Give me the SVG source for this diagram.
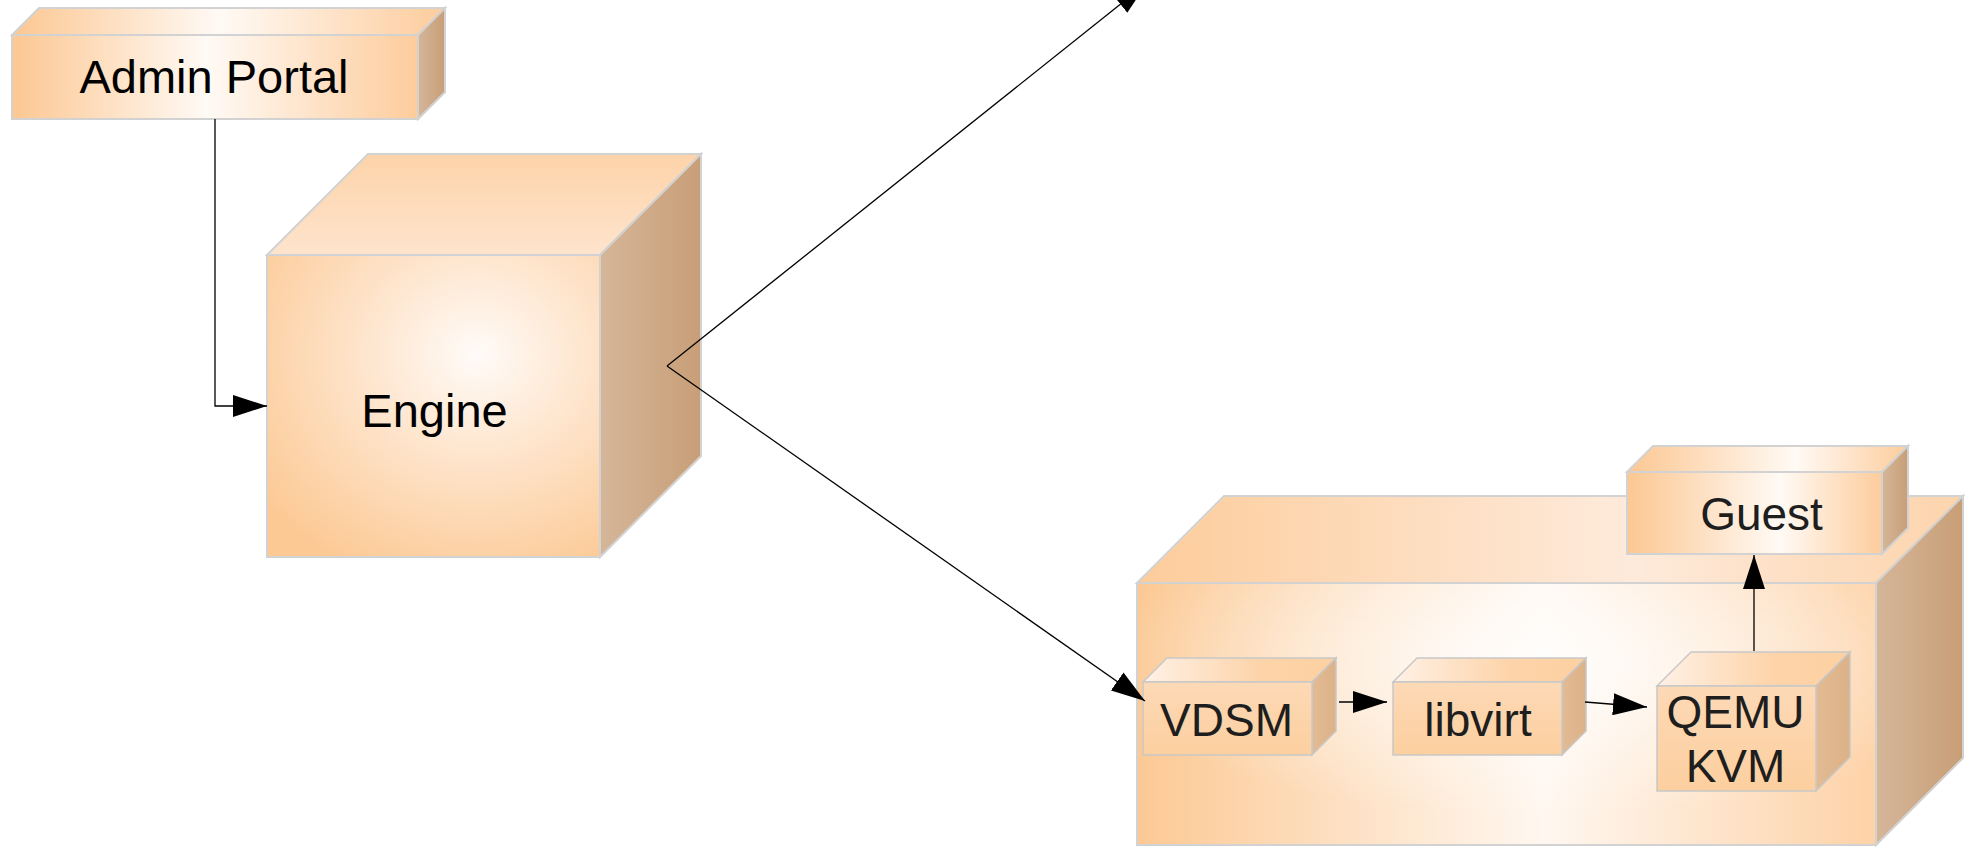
<svg xmlns="http://www.w3.org/2000/svg" width="1971" height="848" viewBox="0 0 1971 848">
<defs>
<style>
.edge{stroke:#d2d2d2;stroke-width:2;stroke-linejoin:miter}
.edge1{stroke:#c8c8c8;stroke-width:1.5}
.lbl{font-family:"Liberation Sans",Arial,sans-serif;font-size:47px;text-anchor:middle;fill:#000}
.lbl2{font-family:"Liberation Sans",Arial,sans-serif;font-size:46px;text-anchor:middle;fill:#1e1e1e}
.conn{fill:none;stroke:#000;stroke-width:1.3}
</style>
<linearGradient id="gAxialA" x1="0" y1="0" x2="1" y2="0">
<stop offset="0" stop-color="#fcc792"/><stop offset="0.48" stop-color="#fffaf5"/><stop offset="1" stop-color="#fdcc9c"/>
</linearGradient>
<linearGradient id="gAxialG" x1="0" y1="0" x2="1" y2="0">
<stop offset="0" stop-color="#fcc792"/><stop offset="0.6" stop-color="#fffaf5"/><stop offset="1" stop-color="#fdcc9c"/>
</linearGradient>
<linearGradient id="gSide" x1="0" y1="0" x2="1" y2="0">
<stop offset="0" stop-color="#d5b699"/><stop offset="1" stop-color="#c89e77"/>
</linearGradient>
<radialGradient id="gEngineFront" cx="0.63" cy="0.33" r="0.8" fx="0.63" fy="0.33">
<stop offset="0" stop-color="#fffbf8"/><stop offset="0.4" stop-color="#fee6cf"/><stop offset="1" stop-color="#fcc994"/>
</radialGradient>
<linearGradient id="gEngineTop" x1="0" y1="0" x2="0" y2="1">
<stop offset="0" stop-color="#fdd3a9"/><stop offset="1" stop-color="#fee4cd"/>
</linearGradient>
<linearGradient id="gHostFront" x1="0" y1="0" x2="1" y2="0">
<stop offset="0" stop-color="#fcc994"/><stop offset="0.55" stop-color="#fff7f0"/><stop offset="1" stop-color="#fdd2a7"/>
</linearGradient>
<radialGradient id="gHostGlow" cx="0.55" cy="0.3" r="0.6">
<stop offset="0" stop-color="#fff" stop-opacity="0.8"/><stop offset="1" stop-color="#fff" stop-opacity="0"/>
</radialGradient>
<linearGradient id="gHostTop" x1="0" y1="0" x2="1" y2="0">
<stop offset="0" stop-color="#fdcc9b"/><stop offset="0.6" stop-color="#feeadb"/><stop offset="1" stop-color="#fdd4ac"/>
</linearGradient>
<linearGradient id="gSmallFront" x1="0" y1="0" x2="0" y2="1">
<stop offset="0" stop-color="#fdd9b6"/><stop offset="1" stop-color="#fccf9f"/>
</linearGradient>
<linearGradient id="gSmallTop" x1="0" y1="0" x2="1" y2="0">
<stop offset="0" stop-color="#fff1e6"/><stop offset="0.6" stop-color="#fdd4aa"/><stop offset="1" stop-color="#fdd0a0"/>
</linearGradient>
<linearGradient id="gSmallSide" x1="0" y1="0" x2="1" y2="0">
<stop offset="0" stop-color="#e2bb94"/><stop offset="1" stop-color="#dcb187"/>
</linearGradient>
<marker id="arr" markerUnits="userSpaceOnUse" viewBox="0 0 34 22" markerWidth="34" markerHeight="22" refX="34" refY="11" orient="auto">
<path d="M0,0 L34,11 L0,22 Z" fill="#000"/>
</marker>
</defs>
<rect width="1971" height="848" fill="#fff"/>

<g id="admin-portal">
<polygon class="edge" points="12,35 39,8 445,8 418,35" fill="url(#gAxialA)"/>
<polygon class="edge" points="418,35 445,8 445,92 418,119" fill="url(#gSide)"/>
<rect class="edge" x="12" y="35" width="406" height="84" fill="url(#gAxialA)"/>
<text class="lbl" x="214" y="93">Admin Portal</text>
</g>

<g id="engine">
<polygon class="edge" points="267,255 368,154 701,154 600,255" fill="url(#gEngineTop)"/>
<polygon class="edge" points="600,255 701,154 701,456 600,557" fill="url(#gSide)"/>
<rect class="edge" x="267" y="255" width="333" height="302" fill="url(#gEngineFront)"/>
<text class="lbl" x="434.5" y="427">Engine</text>
</g>

<g id="host">
<polygon class="edge" points="1137,583 1224,496 1963,496 1876,583" fill="url(#gHostTop)"/>
<polygon class="edge" points="1876,583 1963,496 1963,758 1876,845" fill="url(#gSide)"/>
<rect class="edge" x="1137" y="583" width="739" height="262" fill="url(#gHostFront)"/>
<rect x="1138" y="584" width="737" height="260" fill="url(#gHostGlow)"/>
</g>

<g id="guest">
<polygon class="edge" points="1627,472 1653,446 1908,446 1882,472" fill="url(#gAxialG)"/>
<polygon class="edge" points="1882,472 1908,446 1908,528 1882,554" fill="url(#gSide)"/>
<rect class="edge" x="1627" y="472" width="255" height="82" fill="url(#gAxialG)"/>
<text class="lbl2" x="1761.5" y="530">Guest</text>
</g>

<g id="vdsm">
<polygon class="edge1" points="1143,682 1167,658 1336,658 1312,682" fill="url(#gSmallTop)"/>
<polygon class="edge1" points="1312,682 1336,658 1336,731 1312,755" fill="url(#gSmallSide)"/>
<rect class="edge1" x="1143" y="682" width="169" height="73" fill="url(#gSmallFront)"/>
<text class="lbl2" x="1226.5" y="736">VDSM</text>
</g>

<g id="libvirt">
<polygon class="edge1" points="1393,682 1417,658 1586,658 1562,682" fill="url(#gSmallTop)"/>
<polygon class="edge1" points="1562,682 1586,658 1586,731 1562,755" fill="url(#gSmallSide)"/>
<rect class="edge1" x="1393" y="682" width="169" height="73" fill="url(#gSmallFront)"/>
<text class="lbl2" x="1478" y="736">libvirt</text>
</g>

<g id="qemu-kvm">
<polygon class="edge1" points="1657,686 1691,652 1850,652 1816,686" fill="url(#gSmallTop)"/>
<polygon class="edge1" points="1816,686 1850,652 1850,757 1816,791" fill="url(#gSmallSide)"/>
<rect class="edge1" x="1657" y="686" width="159" height="105" fill="url(#gSmallFront)"/>
<text class="lbl2" x="1735.5" y="728">QEMU</text>
<text class="lbl2" x="1735.5" y="782">KVM</text>
</g>

<g id="connectors">
<polyline class="conn" points="215,119 215,406 267,406" marker-end="url(#arr)"/>
<line class="conn" x1="667" y1="366" x2="1147" y2="-17" marker-end="url(#arr)"/>
<line class="conn" x1="667" y1="366" x2="1145" y2="701" marker-end="url(#arr)"/>
<line class="conn" x1="1339" y1="702" x2="1387" y2="702" marker-end="url(#arr)"/>
<line class="conn" x1="1585" y1="702" x2="1647" y2="707" marker-end="url(#arr)"/>
<line class="conn" x1="1754" y1="651" x2="1754" y2="555" marker-end="url(#arr)"/>
</g>
</svg>
